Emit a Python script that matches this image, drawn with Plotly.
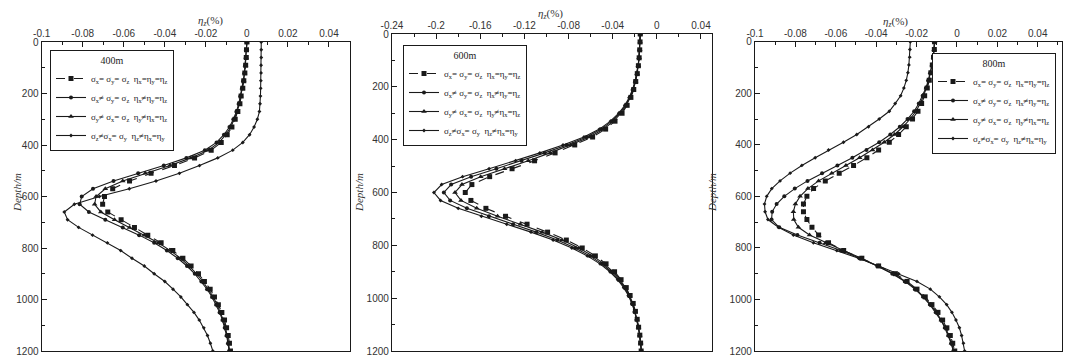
import plotly.graph_objects as go

# ---------------- data ----------------
depth = [0, 30, 60, 90, 120, 150, 180, 210, 240, 270, 300, 330, 360, 390, 420, 450, 480, 510, 540, 570,
         600, 630, 660, 690, 720, 750, 780, 810, 840, 870, 900, 930, 960, 990, 1020, 1050, 1080, 1110,
         1140, 1170, 1200]

series_names = [
    "σ<sub>x</sub>= σ<sub>y</sub>= σ<sub>z</sub>  η<sub>x</sub>=η<sub>y</sub>=η<sub>z</sub>",
    "σ<sub>x</sub>≠ σ<sub>y</sub>= σ<sub>z</sub>  η<sub>x</sub>≠η<sub>y</sub>=η<sub>z</sub>",
    "σ<sub>y</sub>≠ σ<sub>x</sub>= σ<sub>z</sub>  η<sub>y</sub>≠η<sub>x</sub>=η<sub>z</sub>",
    "σ<sub>z</sub>≠σ<sub>x</sub>= σ<sub>y</sub>  η<sub>z</sub>≠η<sub>x</sub>=η<sub>y</sub>",
]
panel_titles = ["400m", "600m", "800m"]

# 400 m
p400_c1 = [0.0000, -0.0002, -0.0003, -0.0006, -0.0010, -0.0015, -0.0020, -0.0028, -0.0034, -0.0044,
           -0.0057, -0.0073, -0.0096, -0.0125, -0.0174, -0.0255, -0.0353, -0.0467, -0.0572, -0.0654,
           -0.0694, -0.0703, -0.0678, -0.0613, -0.0548, -0.0483, -0.0418, -0.0361, -0.0312, -0.0272,
           -0.0236, -0.0207, -0.0179, -0.0158, -0.0139, -0.0122, -0.0109, -0.0099, -0.0091, -0.0085,
           -0.0080]
p400_c2 = [0.0000, -0.0003, -0.0005, -0.0008, -0.0012, -0.0018, -0.0024, -0.0032, -0.0040, -0.0051,
           -0.0066, -0.0085, -0.0112, -0.0148, -0.0205, -0.0295, -0.0405, -0.0530, -0.0650, -0.0750,
           -0.0805, -0.0815, -0.0770, -0.0690, -0.0605, -0.0525, -0.0452, -0.0390, -0.0337, -0.0292,
           -0.0254, -0.0222, -0.0194, -0.0170, -0.0150, -0.0133, -0.0119, -0.0108, -0.0099, -0.0092,
           -0.0087]
p400_c3 = [0.0000, -0.0002, -0.0004, -0.0007, -0.0011, -0.0016, -0.0022, -0.0030, -0.0037, -0.0047,
           -0.0061, -0.0078, -0.0103, -0.0135, -0.0188, -0.0273, -0.0375, -0.0495, -0.0605, -0.0690,
           -0.0735, -0.0742, -0.0712, -0.0645, -0.0572, -0.0500, -0.0432, -0.0373, -0.0323, -0.0281,
           -0.0245, -0.0214, -0.0187, -0.0164, -0.0145, -0.0128, -0.0115, -0.0104, -0.0096, -0.0089,
           -0.0084]
p400_c4 = [0.0070, 0.0070, 0.0070, 0.0069, 0.0069, 0.0068, 0.0067, 0.0066, 0.0064, 0.0061,
           0.0051, 0.0035, 0.0013, -0.0020, -0.0069, -0.0142, -0.0231, -0.0329, -0.0443, -0.0573,
           -0.0719, -0.0841, -0.0890, -0.0874, -0.0820, -0.0752, -0.0680, -0.0615, -0.0560, -0.0500,
           -0.0452, -0.0400, -0.0360, -0.0322, -0.0290, -0.0258, -0.0232, -0.0210, -0.0192, -0.0178,
           -0.0166]

# 600 m
p600_c1 = [-0.0150, -0.0152, -0.0155, -0.0160, -0.0167, -0.0177, -0.0191, -0.0209, -0.0235, -0.0269,
           -0.0315, -0.0379, -0.0464, -0.0582, -0.0744, -0.0922, -0.1108, -0.1312, -0.1515, -0.1676,
           -0.1736, -0.1685, -0.1549, -0.1371, -0.1176, -0.0990, -0.0820, -0.0676, -0.0557, -0.0460,
           -0.0383, -0.0324, -0.0277, -0.0242, -0.0214, -0.0194, -0.0178, -0.0165, -0.0154, -0.0147,
           -0.0142]
p600_c2 = [-0.0150, -0.0152, -0.0156, -0.0161, -0.0169, -0.0180, -0.0196, -0.0217, -0.0245, -0.0283,
           -0.0336, -0.0407, -0.0502, -0.0636, -0.0816, -0.1016, -0.1226, -0.1454, -0.1683, -0.1864,
           -0.1930, -0.1873, -0.1721, -0.1521, -0.1302, -0.1092, -0.0902, -0.0740, -0.0607, -0.0497,
           -0.0412, -0.0345, -0.0293, -0.0253, -0.0222, -0.0200, -0.0181, -0.0167, -0.0155, -0.0146,
           -0.0140]
p600_c3 = [-0.0150, -0.0152, -0.0155, -0.0161, -0.0168, -0.0179, -0.0193, -0.0213, -0.0240, -0.0276,
           -0.0325, -0.0392, -0.0482, -0.0608, -0.0779, -0.0967, -0.1165, -0.1380, -0.1596, -0.1766,
           -0.1829, -0.1775, -0.1632, -0.1443, -0.1237, -0.1039, -0.0859, -0.0707, -0.0581, -0.0478,
           -0.0397, -0.0334, -0.0285, -0.0247, -0.0218, -0.0197, -0.0180, -0.0166, -0.0154, -0.0146,
           -0.0141]
p600_c4 = [-0.0150, -0.0152, -0.0156, -0.0162, -0.0170, -0.0182, -0.0198, -0.0220, -0.0250, -0.0290,
           -0.0345, -0.0420, -0.0520, -0.0660, -0.0850, -0.1060, -0.1280, -0.1520, -0.1760, -0.1950,
           -0.2020, -0.1960, -0.1800, -0.1590, -0.1360, -0.1140, -0.0940, -0.0770, -0.0630, -0.0515,
           -0.0425, -0.0355, -0.0300, -0.0258, -0.0226, -0.0202, -0.0183, -0.0168, -0.0155, -0.0146,
           -0.0140]

# 800 m
p800_c1 = [-0.0111, -0.0112, -0.0116, -0.0122, -0.0129, -0.0137, -0.0147, -0.0160, -0.0175, -0.0193,
           -0.0220, -0.0251, -0.0289, -0.0335, -0.0388, -0.0446, -0.0512, -0.0583, -0.0652, -0.0710,
           -0.0743, -0.0760, -0.0760, -0.0743, -0.0718, -0.0685, -0.0636, -0.0561, -0.0471, -0.0388,
           -0.0305, -0.0247, -0.0198, -0.0157, -0.0124, -0.0094, -0.0071, -0.0050, -0.0033, -0.0021,
           -0.0011]
p800_c2 = [-0.0111, -0.0113, -0.0117, -0.0124, -0.0132, -0.0142, -0.0154, -0.0170, -0.0189, -0.0212,
           -0.0245, -0.0283, -0.0330, -0.0385, -0.0448, -0.0518, -0.0592, -0.0668, -0.0740, -0.0803,
           -0.0855, -0.0893, -0.0915, -0.0918, -0.0880, -0.0790, -0.0680, -0.0575, -0.0480, -0.0395,
           -0.0320, -0.0258, -0.0208, -0.0168, -0.0134, -0.0105, -0.0080, -0.0060, -0.0043, -0.0029,
           -0.0018]
p800_c3 = [-0.0111, -0.0113, -0.0116, -0.0123, -0.0131, -0.0140, -0.0151, -0.0165, -0.0182, -0.0203,
           -0.0232, -0.0267, -0.0309, -0.0360, -0.0418, -0.0482, -0.0550, -0.0620, -0.0685, -0.0738,
           -0.0777, -0.0800, -0.0810, -0.0808, -0.0785, -0.0730, -0.0650, -0.0562, -0.0473, -0.0390,
           -0.0315, -0.0254, -0.0204, -0.0164, -0.0130, -0.0101, -0.0077, -0.0057, -0.0040, -0.0027,
           -0.0016]
p800_c4 = [-0.0231, -0.0233, -0.0234, -0.0238, -0.0243, -0.0251, -0.0263, -0.0279, -0.0306, -0.0335,
           -0.0385, -0.0438, -0.0496, -0.0562, -0.0636, -0.0702, -0.0768, -0.0826, -0.0876, -0.0917,
           -0.0942, -0.0953, -0.0950, -0.0936, -0.0884, -0.0810, -0.0711, -0.0595, -0.0487, -0.0388,
           -0.0289, -0.0198, -0.0132, -0.0087, -0.0051, -0.0025, -0.0005, 0.0012, 0.0023, 0.0032,
           0.0038]

x_ticks_a = [-0.1, -0.08, -0.06, -0.04, -0.02, 0, 0.02, 0.04]
x_ticktext_a = ["-0.1", "-0.08", "-0.06", "-0.04", "-0.02", "0", "0.02", "0.04"]
x_ticks_b = [-0.24, -0.2, -0.16, -0.12, -0.08, -0.04, 0, 0.04]
x_ticktext_b = ["-0.24", "-0.2", "-0.16", "-0.12", "-0.08", "-0.04", "0", "0.04"]
y_ticks = [0, 200, 400, 600, 800, 1000, 1200]

panels = [
    [p400_c1, p400_c2, p400_c3, p400_c4],
    [p600_c1, p600_c2, p600_c3, p600_c4],
    [p800_c1, p800_c2, p800_c3, p800_c4],
]

# ---------------- style ----------------
W, H = 1065, 357
INK = "#1a1a1a"
markers = [
    dict(symbol="square", size=5),
    dict(symbol="circle", size=4),
    dict(symbol="triangle-up", size=5),
    dict(symbol="diamond", size=3),
]
dashes = ["dash", "solid", "solid", "solid"]

# pixel geometry of each plot area: (left, right, top, bottom)
boxes = [(41.7, 349.5, 42.0, 351.0), (392.0, 712.0, 34.0, 351.0), (755.0, 1062.0, 41.7, 351.0)]
xranges = [[-0.1, 0.05], [-0.24, 0.05], [-0.1, 0.052]]
xticks = [(x_ticks_a, x_ticktext_a, 0.01), (x_ticks_b, x_ticktext_b, 0.02), (x_ticks_a, x_ticktext_a, 0.01)]
legend_pos = [(50, 50), (403, 45), (932, 53)]
xtitle_pos = [(196, 12), (550, 5), (910, 13)]
ytitle_pos = [(9, 193), (359, 193), (720, 193)]

fig = go.Figure()
legend_ids = ["legend", "legend2", "legend3"]

for p in range(3):
    ax = "" if p == 0 else str(p + 1)
    for k in range(4):
        fig.add_trace(go.Scatter(
            x=panels[p][k], y=depth, mode="lines+markers",
            name=series_names[k],
            line=dict(color=INK, width=1.1, dash=dashes[k]),
            marker=dict(color=INK, **markers[k]),
            xaxis="x" + ax, yaxis="y" + ax,
            legend=legend_ids[p],
        ))

layout = dict(
    width=W, height=H,
    margin=dict(l=0, r=0, t=0, b=0, autoexpand=False),
    paper_bgcolor="white", plot_bgcolor="white",
    font=dict(family="Liberation Sans, Arial, sans-serif", size=10, color="#333"),
    annotations=[],
)

for p in range(3):
    ax = "" if p == 0 else str(p + 1)
    l, r, t, b = boxes[p]
    tv, tt, minor_dt = xticks[p]
    layout["xaxis" + ax] = dict(
        domain=[l / W, r / W], range=xranges[p], side="top",
        anchor="y" + ax, automargin=False, ticklabeloverflow="allow",
        tickvals=tv, ticktext=tt, ticks="inside", ticklen=5, tickwidth=1, tickcolor=INK,
        minor=dict(dtick=minor_dt, tick0=0, ticks="inside", ticklen=3, tickcolor=INK),
        showline=True, linecolor=INK, linewidth=1.3, mirror=True,
        showgrid=False, zeroline=False,
        tickfont=dict(family="Liberation Sans, Arial, sans-serif", size=10, color="#333"),
    )
    layout["yaxis" + ax] = dict(
        domain=[1 - b / H, 1 - t / H], range=[1200, 0],
        anchor="x" + ax, automargin=False, ticklabeloverflow="allow",
        tickvals=y_ticks, ticks="inside", ticklen=5, tickwidth=1, tickcolor=INK,
        minor=dict(dtick=100, tick0=0, ticks="inside", ticklen=3, tickcolor=INK),
        showline=True, linecolor=INK, linewidth=1.3, mirror=True,
        showgrid=False, zeroline=False,
        tickfont=dict(family="Liberation Sans, Arial, sans-serif", size=10, color="#333"),
    )
    lx, ly = legend_pos[p]
    layout[legend_ids[p]] = dict(
        x=lx / W, y=1 - ly / H, xanchor="left", yanchor="top",
        xref="paper", yref="paper",
        bgcolor="white", bordercolor=INK, borderwidth=1,
        font=dict(family="Liberation Serif, Times New Roman, serif", size=9, color="#222"),
        title=dict(text=panel_titles[p], side="top center",
                   font=dict(family="Liberation Serif, Times New Roman, serif", size=10, color="#222")),
        itemwidth=30, tracegroupgap=0,
    )
    tx, ty = xtitle_pos[p]
    layout["annotations"].append(dict(
        x=tx / W, y=1 - ty / H, xref="paper", yref="paper", showarrow=False,
        text="<i>η</i><sub><i>z</i></sub>(%)",
        font=dict(family="Liberation Serif, Times New Roman, serif", size=11, color="#333"),
    ))
    yx, yy = ytitle_pos[p]
    layout["annotations"].append(dict(
        x=yx / W, y=1 - yy / H, xref="paper", yref="paper", showarrow=False,
        text="<i>Depth/m</i>", textangle=-90,
        font=dict(family="Liberation Serif, Times New Roman, serif", size=11, color="#333"),
    ))

fig.update_layout(**layout)
fig.write_html(
    "out.html",
    config={"displayModeBar": False},
    post_script="document.body.style.margin='0';document.body.style.overflow='hidden';",
)
